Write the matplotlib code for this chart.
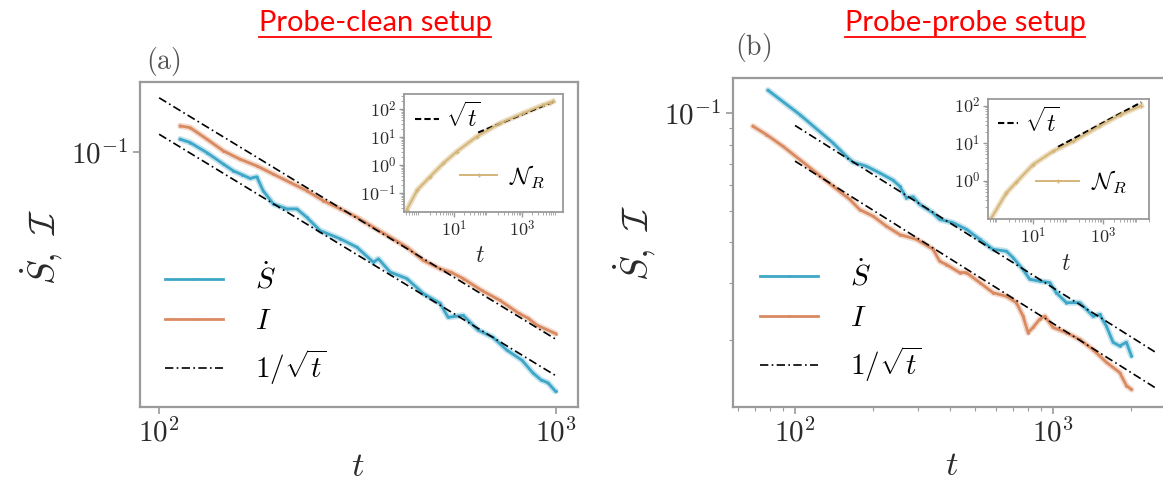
"""Entropy production / information decay for the probe-clean and probe-probe setups."""
import numpy as np
import matplotlib

matplotlib.use("Agg")
import matplotlib.pyplot as plt
from matplotlib.lines import Line2D
from matplotlib.ticker import FixedLocator, FuncFormatter, LogLocator, NullFormatter, NullLocator

plt.rcParams["mathtext.fontset"] = "cm"
plt.rcParams["font.family"] = ["DejaVu Serif"]

W, H = 1163, 487

# ---- panel (a): probe-clean setup ----
a_t_I = [113, 119.7, 131.9, 145.2, 160, 176.2, 194, 213.8, 235.5, 259.4, 285.8, 314.8,
         346.7, 382, 420.7, 463.4, 510.5, 545, 583.5, 649, 722.5, 804.5, 850, 895.5, 997]
a_I = [0.1130, 0.1121, 0.1061, 0.1003, 0.0964, 0.0934, 0.0898, 0.0863, 0.0830, 0.0791, 0.0761,
       0.0731, 0.0697, 0.0665, 0.0634, 0.0595, 0.0572, 0.0562, 0.0546, 0.0516, 0.0492, 0.0463,
       0.0452, 0.0437, 0.0420]
a_t_S = [113, 119.7, 131.9, 145.2, 153.9, 162, 169.5, 176.2, 182.8, 194, 209.8, 222.3, 235.5,
         254.4, 285.8, 314.8, 346.7, 356.8, 382, 420.7, 463.4, 510.5, 534.6, 583.5, 636.2,
         692.3, 752.6, 820.6, 875, 916, 955, 997]
a_S = [0.1061, 0.1044, 0.0995, 0.0942, 0.0912, 0.0895, 0.0880, 0.0887, 0.0830, 0.0779, 0.0761,
       0.0761, 0.0731, 0.0686, 0.0660, 0.0634, 0.0590, 0.0600, 0.0563, 0.0546, 0.0508, 0.0485,
       0.0454, 0.0458, 0.0427, 0.0413, 0.0388, 0.0370, 0.0348, 0.0337, 0.0332, 0.0319]
a_fit = [1.292, 1.086]          # c / sqrt(t)
a_fit_t = [100, 1000]
a_in_t = [0.42, 0.86, 2.03, 4.97, 12.2, 47.1, 226, 1084, 4169, 6546, 8000]
a_in_N = [0.0247, 0.128, 0.382, 1.15, 2.99, 10.3, 30.8, 70.2, 139, 168, 186]
a_in_fit, a_in_fit_t = 2.0, [52, 9100]

# ---- panel (b): probe-probe setup ----
b_t_S = [78.6, 104.3, 140.4, 158.1, 167.8, 189, 212.9, 239.8, 254.5, 270.1, 286.7, 304.2,
         342.7, 363.7, 409.7, 461.6, 519.8, 585.3, 659.3, 699.8, 765.3, 812.3, 887.9, 970.7,
         1030, 1126.5, 1268.6, 1346.6, 1429, 1516.5, 1609.6, 1708.3, 1813, 1924, 2012]
b_S = [0.1177, 0.0991, 0.0810, 0.0737, 0.0707, 0.0687, 0.0655, 0.0622, 0.0596, 0.0549, 0.0553,
       0.0524, 0.0493, 0.0471, 0.0460, 0.0439, 0.0409, 0.0381, 0.0376, 0.0359, 0.0330, 0.0308,
       0.0304, 0.0301, 0.0280, 0.0261, 0.0261, 0.0249, 0.0237, 0.0240, 0.0221, 0.0197, 0.0192,
       0.0197, 0.0179]
b_t_I = [68.7, 77.4, 89.8, 104.3, 121, 140.4, 162.9, 178.1, 200.6, 225.9, 254.5, 295.3, 342.7,
         363.7, 386, 434.7, 461.6, 519.8, 585.3, 659.3, 721, 765.3, 800.2, 836.8, 887.9, 928.4,
         1000, 1126.5, 1268.6, 1429, 1609.6, 1813, 1924, 2012]
b_I = [0.0912, 0.0860, 0.0791, 0.0720, 0.0655, 0.0596, 0.0543, 0.0505, 0.0482, 0.0449, 0.0423,
       0.0409, 0.0381, 0.0350, 0.0342, 0.0323, 0.0323, 0.0301, 0.0280, 0.0273, 0.0261, 0.0237,
       0.0211, 0.0219, 0.0232, 0.0237, 0.0219, 0.0211, 0.0201, 0.0187, 0.0171, 0.0159, 0.0145,
       0.0141]
b_fit = [0.917, 0.712]
b_fit_t = [100, 2514]
b_in_t = [0.646, 1.73, 3.33, 10, 37.2, 139, 776, 3000, 12400]
b_in_N = [0.1007, 0.468, 0.902, 2.67, 6.03, 11.1, 28.2, 56.2, 100]
b_in_fit, b_in_fit_t = 1.1, [52, 12400]

BLUE, ORANGE, TAN = "#3ea7c8", "#d98a60", "#d4b679"
SPINE, LABEL = "#9a9a9a", "#2a2a2a"


def frac(x0, y0, x1, y1):
    """Pixel box (top-left origin) -> figure-fraction rect."""
    return [x0 / W, 1 - y1 / H, (x1 - x0) / W, (y1 - y0) / H]


def pow10(v, _):
    return r"$10^{%d}$" % int(round(np.log10(v)))


def style(ax, size, lw=1.6):
    for s in ax.spines.values():
        s.set_color(SPINE)
        s.set_linewidth(lw)
    ax.tick_params(which="both", color=SPINE, labelcolor=LABEL, labelsize=size)
    ax.xaxis.set_major_formatter(FuncFormatter(pow10))
    ax.yaxis.set_major_formatter(FuncFormatter(pow10))


def curve(ax, t, y, color, label):
    ax.plot(t, y, color=color, lw=4.5, alpha=0.3, solid_capstyle="round")
    ax.plot(t, y, color=color, lw=2.0, marker=".", ms=2, label=label)


def main_panel(rect, xlim, ylim, S, I, fit, fit_t, minor, leg_xy):
    ax = fig.add_axes(rect)
    ax.set_xscale("log")
    ax.set_yscale("log")
    curve(ax, S[0], S[1], BLUE, r"$\dot{S}$")
    curve(ax, I[0], I[1], ORANGE, r"$I$")
    tt = np.geomspace(fit_t[0], fit_t[1], 50)
    for k, c in enumerate(fit):
        ax.plot(tt, c / np.sqrt(tt), color="k", lw=1.2, ls=(0, (5, 2, 1, 2)),
                label=r"$1/\sqrt{t}$" if k == 0 else None)
    ax.set_xlim(xlim)
    ax.set_ylim(ylim)
    style(ax, 21)
    ax.xaxis.set_major_locator(FixedLocator([100, 1000]))
    ax.yaxis.set_major_locator(FixedLocator([0.1]))
    if minor:
        ax.xaxis.set_minor_locator(LogLocator(subs=np.arange(2, 10), numticks=20))
        ax.yaxis.set_minor_locator(LogLocator(subs=np.arange(2, 10), numticks=20))
        ax.xaxis.set_minor_formatter(NullFormatter())
        ax.yaxis.set_minor_formatter(NullFormatter())
    else:
        ax.xaxis.set_minor_locator(NullLocator())
        ax.yaxis.set_minor_locator(NullLocator())
    ax.tick_params(which="major", length=5, width=1.2)
    ax.tick_params(which="minor", length=3, width=0.8)
    h, l = ax.get_legend_handles_labels()
    ax.legend(h, l, loc="center left", bbox_to_anchor=leg_xy, frameon=False, fontsize=21,
              borderpad=0, borderaxespad=0, handlelength=2.0, handletextpad=1.1,
              labelspacing=0.42, numpoints=1)
    return ax


def inset(rect, xlim, ylim, yticks, t, N, c, fit_t, leg1, leg2):
    ax = fig.add_axes(rect)
    ax.set_xscale("log")
    ax.set_yscale("log")
    ax.plot(t, N, color=TAN, lw=4, alpha=0.45)
    tt = np.geomspace(fit_t[0], fit_t[1], 40)
    l1, = ax.plot(tt, c * np.sqrt(tt), color="k", lw=1.5, ls=(0, (3, 1.5)))
    l2, = ax.plot(t, N, color=TAN, lw=1.4, marker="+", ms=3)
    ax.set_xlim(xlim)
    ax.set_ylim(ylim)
    style(ax, 13, lw=1.3)
    ax.xaxis.set_major_locator(FixedLocator([10, 1000]))
    ax.yaxis.set_major_locator(FixedLocator(yticks))
    ax.xaxis.set_minor_locator(LogLocator(subs=np.arange(2, 10), numticks=30))
    ax.yaxis.set_minor_locator(LogLocator(subs=np.arange(2, 10), numticks=30))
    ax.xaxis.set_minor_formatter(NullFormatter())
    ax.yaxis.set_minor_formatter(NullFormatter())
    ax.tick_params(which="major", length=3.5, width=1.0, pad=2)
    ax.tick_params(which="minor", length=2, width=0.6)
    g1 = ax.legend([l1], [r"$\sqrt{t}$"], loc="center left", bbox_to_anchor=leg1[0],
                   frameon=False, fontsize=17, borderpad=0, borderaxespad=0,
                   handlelength=leg1[1], handletextpad=0.3)
    ax.add_artist(g1)
    ax.legend([l2], [r"$\mathcal{N}_R$"], loc="center left", bbox_to_anchor=leg2[0],
              frameon=False, fontsize=17, borderpad=0, borderaxespad=0,
              handlelength=leg2[1], handletextpad=0.5, numpoints=1)
    return ax


fig = plt.figure(figsize=(W / 100, H / 100), dpi=100)

main_panel(frac(140, 82, 578, 407), (89.5, 1136), (0.0296, 0.1393),
           (a_t_S, a_S), (a_t_I, a_I), a_fit, a_fit_t, False, (0.057, 0.252))
main_panel(frac(733, 78, 1165, 407), (57.5, 2716), (0.01245, 0.1284),
           (b_t_S, b_S), (b_t_I, b_I), b_fit, b_fit_t, True, (0.0625, 0.258))

inset(frac(404, 94, 563, 212), (0.352, 15850), (0.021, 343), [0.1, 1, 10, 100],
      a_in_t, a_in_N, a_in_fit, a_in_fit_t, ((0.07, 0.80), 1.0), ((0.35, 0.30), 1.6))
inset(frac(988, 99, 1149, 219), (0.518, 20600), (0.0946, 150), [1, 10, 100],
      b_in_t, b_in_N, b_in_fit, b_in_fit_t, ((0.06, 0.81), 0.85), ((0.30, 0.31), 1.8))

# axis labels and panel tags
for x, y, s in [(42, 247, r"$\dot{S},\ \mathcal{I}$"), (635, 243, r"$\dot{S},\ \mathcal{I}$")]:
    fig.text(x / W, 1 - y / H, s, rotation=90, ha="center", va="center", fontsize=27,
             color=LABEL)
for x, y in [(358, 466), (952, 465)]:
    fig.text(x / W, 1 - y / H, r"$t$", ha="center", va="center", fontsize=25, color=LABEL)
fig.text(480 / W, 1 - 256 / H, r"$t$", ha="center", va="center", fontsize=17, color=LABEL)
fig.text(1066 / W, 1 - 263 / H, r"$t$", ha="center", va="center", fontsize=17, color=LABEL)
fig.text(163 / W, 1 - 62 / H, r"$\mathrm{(a)}$", ha="center", va="center", fontsize=20,
         color="#555555")
fig.text(753 / W, 1 - 48 / H, r"$\mathrm{(b)}$", ha="center", va="center", fontsize=20,
         color="#555555")

# red underlined headings
heads = []
for x, s in [(375, "Probe-clean setup"), (965, "Probe-probe setup")]:
    heads.append(fig.text(x / W, 1 - 31 / H, s, ha="center", va="baseline", fontsize=21,
                          color="#ff0000", family=["Lato", "DejaVu Sans"]))
fig.canvas.draw()
inv = fig.transFigure.inverted()
for txt in heads:
    bb = txt.get_window_extent()
    (x0, _), (x1, _) = inv.transform([(bb.x0, 0), (bb.x1, 0)])
    fig.add_artist(Line2D([x0, x1], [1 - 37 / H] * 2, color="#ff0000", lw=1.3,
                          transform=fig.transFigure))

fig.savefig("out.png", dpi=100)
